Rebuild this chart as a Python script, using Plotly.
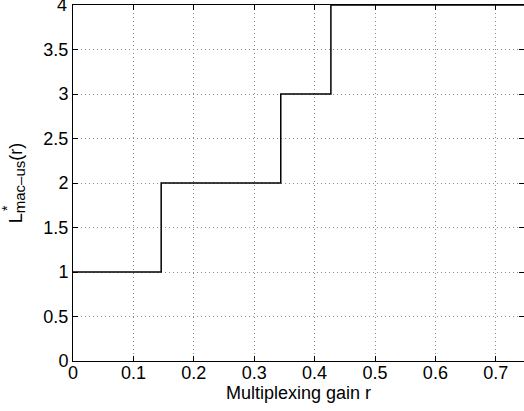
import plotly.graph_objects as go

# Optimal number of users L*_mac-us as a function of the multiplexing gain r
r_breaks = [0.0, 0.146, 0.344, 0.427, 0.75]
L_opt = [1, 2, 3, 4, 4]

x_ticks = [0, 0.1, 0.2, 0.3, 0.4, 0.5, 0.6, 0.7]
x_ticklabels = ["0", "0.1", "0.2", "0.3", "0.4", "0.5", "0.6", "0.7"]
y_ticks = [0, 0.5, 1, 1.5, 2, 2.5, 3, 3.5, 4]
y_ticklabels = ["0", "0.5", "1", "1.5", "2", "2.5", "3", "3.5", ""]
y_top_label = "4"

FONT = "Liberation Sans, Arial, Helvetica, sans-serif"
FS = 18
GRID = dict(showgrid=True, gridcolor="#8c8c8c", gridwidth=1, griddash="1px,3px")

fig = go.Figure()
fig.add_trace(go.Scatter(
    x=r_breaks, y=L_opt, mode="lines", line_shape="hv",
    line=dict(color="black", width=1.5), showlegend=False, hoverinfo="skip",
))
# invisible trace so the right-hand tick axis is drawn
fig.add_trace(go.Scatter(x=[0], y=[0], yaxis="y2", mode="markers",
                         marker=dict(opacity=0), showlegend=False, hoverinfo="skip"))

fig.update_layout(
    width=524, height=411,
    margin=dict(l=73, r=0, t=5, b=50),
    paper_bgcolor="white", plot_bgcolor="white",
    font=dict(family=FONT, size=FS, color="black"),
    xaxis=dict(
        range=[0, 0.7467], tickvals=x_ticks, ticktext=x_ticklabels,
        ticks="inside", ticklen=5, tickcolor="black", tickwidth=1,
        showline=True, linecolor="black", linewidth=1, mirror="ticks",
        zeroline=False, tickfont=dict(size=FS), ticklabelstandoff=-5,
        title=dict(text="Multiplexing gain r", font=dict(size=FS), standoff=0),
        **GRID,
    ),
    yaxis=dict(
        range=[0, 4], tickvals=y_ticks, ticktext=y_ticklabels,
        ticks="inside", ticklen=5, tickcolor="black", tickwidth=1,
        showline=True, linecolor="black", linewidth=1, mirror=False,
        zeroline=False, tickfont=dict(size=FS),
        title=dict(
            text="L<sub><span style='font-size:15px'>mac\u2013us</span></sub>(r)",
            font=dict(size=FS), standoff=16),
        **GRID,
    ),
    yaxis2=dict(
        range=[0, 4], tickvals=y_ticks, overlaying="y", side="right",
        ticks="inside", ticklen=5, tickcolor="black", tickwidth=1,
        showticklabels=False, showline=False, showgrid=False, zeroline=False,
    ),
    annotations=[
        dict(text="*", xref="paper", yref="paper", x=-0.146, y=0.43,
             xanchor="center", yanchor="middle",
             showarrow=False, textangle=-90, font=dict(size=14, family=FONT)),
        dict(text=y_top_label, xref="paper", yref="y", x=0, y=4,
             xanchor="right", yanchor="middle", xshift=-4,
             showarrow=False, font=dict(size=FS, family=FONT)),
    ],
)

fig.write_html("out.html")
